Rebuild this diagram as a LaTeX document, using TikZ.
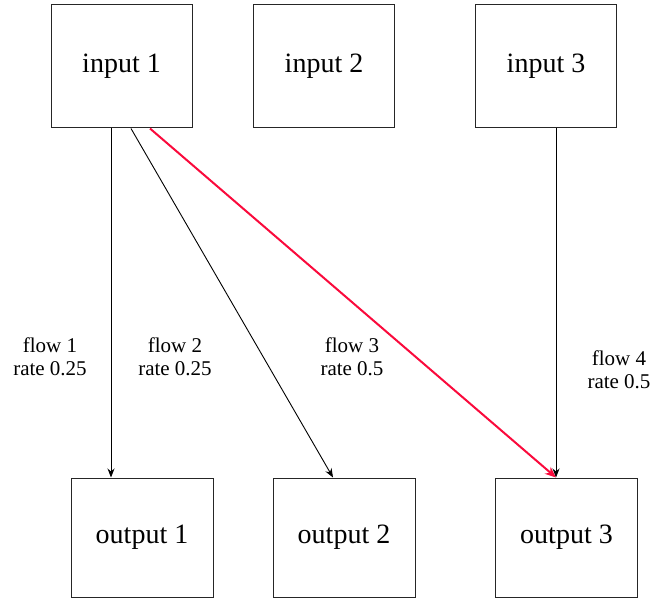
\documentclass[tikz,border=0pt]{standalone}
\usepackage{fontspec}
\setmainfont{Liberation Serif}
\usetikzlibrary{arrows.meta}
\definecolor{flowred}{RGB}{250,10,60}
\begin{document}
\begin{tikzpicture}[x=1pt,y=-1pt,
  inbox/.style={draw=black!85,line width=1pt,minimum width=141pt,minimum height=123pt,inner sep=0pt,font=\fontsize{28}{32}\selectfont},
  outbox/.style={draw=black!85,line width=1pt,minimum width=142pt,minimum height=119pt,inner sep=0pt,font=\fontsize{28}{32}\selectfont},
  flowlbl/.style={align=center,font=\fontsize{21}{23}\selectfont,inner sep=0pt},
  conn/.style={draw=black,line width=0.9pt,-{Stealth[length=9pt,width=7pt]}},
  redconn/.style={draw=flowred,line width=2pt,-{Stealth[length=11pt,width=9pt]}}]
\useasboundingbox (0,0) rectangle (655,601);
\node[inbox] (in1) at (121.5,66.5) {input 1};
\node[inbox] (in2) at (324,66.5) {input 2};
\node[inbox] (in3) at (546,66.5) {input 3};
\node[outbox] (out1) at (142,537.5) {output 1};
\node[outbox] (out2) at (344,537.5) {output 2};
\node[outbox] (out3) at (566.5,537.5) {output 3};
\draw[conn] ([xshift=-10.5pt]in1.south) -- ([xshift=-31pt]out1.north);
\draw[conn] ([xshift=9.5pt]in1.south) -- ([xshift=-11pt]out2.north);
\draw[conn] ([xshift=10pt]in3.south) -- ([xshift=-10.5pt]out3.north);
\draw[redconn] ([xshift=28.5pt]in1.south) -- ([xshift=-10.5pt]out3.north);
\node[flowlbl] (l1) at (50,357) {flow 1\\rate 0.25};
\node[flowlbl] (l2) at (175,357) {flow 2\\rate 0.25};
\node[flowlbl] (l3) at (352,357) {flow 3\\rate 0.5};
\node[flowlbl] (l4) at (619,370) {flow 4\\rate 0.5};
\end{tikzpicture}
\end{document}
